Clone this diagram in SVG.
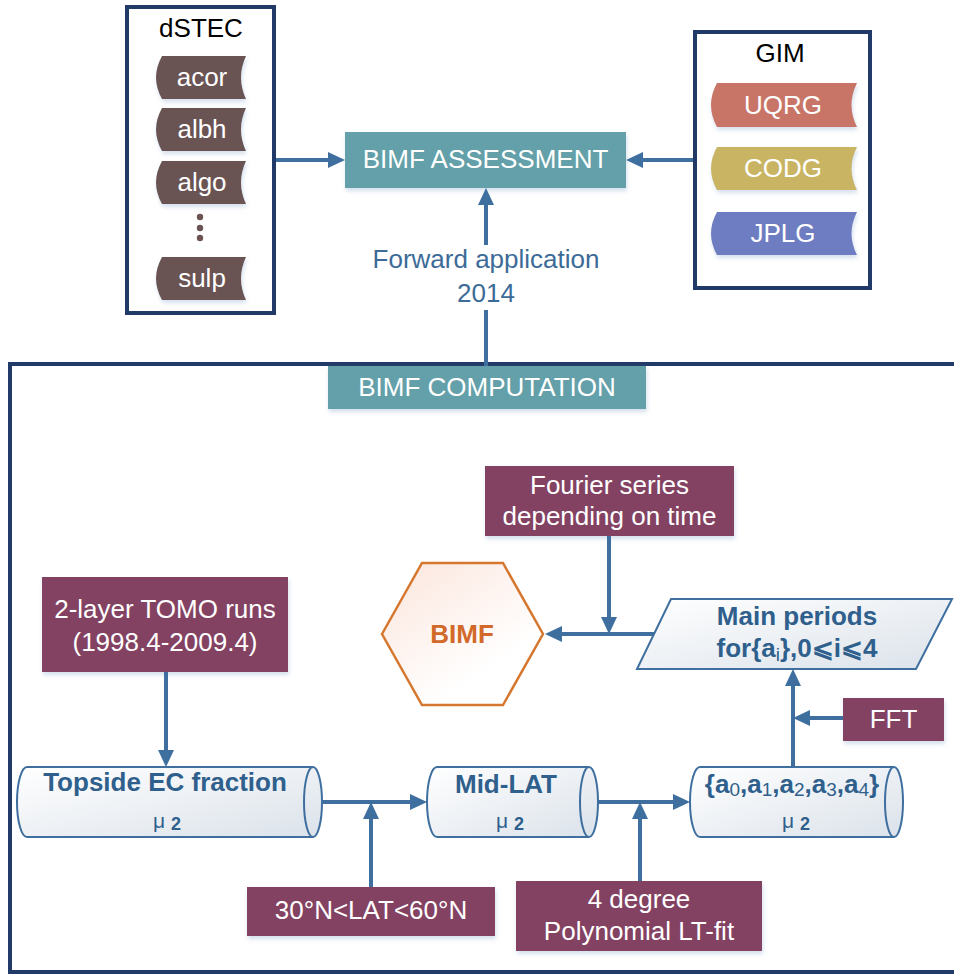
<svg xmlns="http://www.w3.org/2000/svg" width="954" height="977" viewBox="0 0 954 977">
<style>
text{font-family:"Liberation Sans",Arial,sans-serif;font-size:26px;text-anchor:middle}
.w{fill:#ffffff}
.b{fill:#000000}
.t{fill:#2f5f8c;font-weight:bold}
.lbl{fill:#3c6b98}
.frame{fill:none;stroke:#213a68;stroke-width:4}
.teal{fill:#63a0a9;filter:url(#sh)}
.pur{fill:#834262;filter:url(#sh)}
.cyl{fill:url(#cg);stroke:#3e6f9f;stroke-width:2}
.cap{fill:none;stroke:#3e6f9f;stroke-width:2}
.con{fill:none;stroke:#3e6f9f;stroke-width:4;marker-end:url(#ah)}
.con0{fill:none;stroke:#3e6f9f;stroke-width:4}
.sub{font-size:19px;font-weight:normal}
</style>
<defs>
<marker id="ah" markerUnits="userSpaceOnUse" markerWidth="18" markerHeight="18" refX="7" refY="8" orient="auto"><path d="M0,0 L17,8 L0,16 z" fill="#3e6f9f"/></marker>
<linearGradient id="cg" x1="0" y1="0" x2="1" y2="1"><stop offset="0" stop-color="#ffffff"/><stop offset="1" stop-color="#dbe2ea"/></linearGradient>
<linearGradient id="hg" x1="0" y1="0" x2="0.6" y2="0.8"><stop offset="0" stop-color="#fce5dc"/><stop offset="1" stop-color="#ffffff"/></linearGradient>
<filter id="sh" x="-10%" y="-10%" width="130%" height="140%"><feDropShadow dx="1" dy="3" stdDeviation="2" flood-color="#a9c0da" flood-opacity="0.5"/></filter>
</defs>

<g id="dstec">
<rect class="frame" x="127" y="7" width="147" height="306"/>
<text class="b" x="201" y="37">dSTEC</text>
<path d="M162,56 L246,56 Q236,77.5 246,99 L162,99 Q150,77.5 162,56 Z" fill="#6b5353" filter="url(#sh)"/>
<text class="w" x="202" y="86">acor</text>
<path d="M162,108 L246,108 Q236,129.5 246,151 L162,151 Q150,129.5 162,108 Z" fill="#6b5353" filter="url(#sh)"/>
<text class="w" x="202" y="138">albh</text>
<path d="M162,161 L246,161 Q236,182.5 246,204 L162,204 Q150,182.5 162,161 Z" fill="#6b5353" filter="url(#sh)"/>
<text class="w" x="202" y="191">algo</text>
<circle cx="200" cy="217" r="3.2" fill="#6b5353"/>
<circle cx="200" cy="228" r="3.2" fill="#6b5353"/>
<circle cx="200" cy="238" r="3.2" fill="#6b5353"/>
<path d="M162,257 L246,257 Q236,278.5 246,300 L162,300 Q150,278.5 162,257 Z" fill="#6b5353" filter="url(#sh)"/>
<text class="w" x="202" y="287">sulp</text>
</g>

<g id="gim">
<rect class="frame" x="695" y="32" width="175" height="256"/>
<text class="b" x="780" y="62">GIM</text>
<path d="M717,83 L857,83 Q846,105 857,127 L717,127 Q705,105 717,83 Z" fill="#c87468" filter="url(#sh)"/>
<text class="w" x="783" y="114">UQRG</text>
<path d="M717,147 L857,147 Q846,168.5 857,190 L717,190 Q705,168.5 717,147 Z" fill="#c9b463" filter="url(#sh)"/>
<text class="w" x="783" y="177">CODG</text>
<path d="M717,212 L857,212 Q846,233.5 857,255 L717,255 Q705,233.5 717,212 Z" fill="#6e7dc1" filter="url(#sh)"/>
<text class="w" x="783" y="242">JPLG</text>
</g>

<g id="assessment">
<rect class="teal" x="345" y="132" width="281" height="56"/>
<text class="w" x="485.5" y="168">BIMF ASSESSMENT</text>
</g>

<g id="forward-label">
<text class="lbl" x="486" y="268">Forward application</text>
<text class="lbl" x="486" y="302">2014</text>
</g>

<g id="computation-frame">
<rect class="frame" x="10" y="364" width="960" height="608"/>
</g>

<g id="computation">
<rect class="teal" x="328" y="366" width="318" height="43"/>
<text class="w" x="487" y="396">BIMF COMPUTATION</text>
</g>

<g id="fourier">
<rect class="pur" x="485" y="466" width="249" height="70"/>
<text class="w" x="609.5" y="494">Fourier series</text>
<text class="w" x="609.5" y="525">depending on time</text>
</g>

<g id="bimf">
<polygon points="382,634 422,563 503,563 543,634 503,705 422,705" fill="url(#hg)" stroke="#d6772f" stroke-width="2.5"/>
<text x="462" y="643" fill="#d2692a" font-weight="bold">BIMF</text>
</g>

<g id="main-periods">
<polygon points="671,599 952,599 916,669 637,669" class="cyl"/>
<text class="t" x="797" y="625">Main periods</text>
<text class="t" x="797" y="657">for{a<tspan class="sub" dy="4">i</tspan><tspan dy="-4">},0⩽i⩽4</tspan></text>
</g>

<g id="fft">
<rect class="pur" x="843" y="698" width="101" height="43"/>
<text class="w" x="893.5" y="728">FFT</text>
</g>

<g id="tomo">
<rect class="pur" x="42" y="577" width="246" height="95"/>
<text class="w" x="165" y="618">2-layer TOMO runs</text>
<text class="w" x="165" y="651">(1998.4-2009.4)</text>
</g>

<g id="topside">
<path class="cyl" d="M27,767 L313,767 A9,35 0 0 1 313,837 L27,837 A10,35 0 0 1 27,767 Z"/>
<path class="cap" d="M313,767 A9,35 0 0 0 313,837"/>
<text class="t" x="165" y="791">Topside EC fraction</text>
<text class="t" x="167" y="828" style="font-size:21px;font-weight:normal">μ <tspan style="font-weight:bold;font-size:18px" dy="2">2</tspan></text>
</g>

<g id="midlat">
<path class="cyl" d="M437,767 L589,767 A9,35 0 0 1 589,837 L437,837 A10,35 0 0 1 437,767 Z"/>
<path class="cap" d="M589,767 A9,35 0 0 0 589,837"/>
<text class="t" x="506" y="793">Mid-LAT</text>
<text class="t" x="510" y="828" style="font-size:21px;font-weight:normal">μ <tspan style="font-weight:bold;font-size:18px" dy="2">2</tspan></text>
</g>

<g id="coeffs">
<path class="cyl" d="M700,767 L894,767 A9,35 0 0 1 894,837 L700,837 A10,35 0 0 1 700,767 Z"/>
<path class="cap" d="M894,767 A9,35 0 0 0 894,837"/>
<text class="t" x="792" y="793">{a<tspan class="sub" dy="3">0</tspan><tspan dy="-3">,a</tspan><tspan class="sub" dy="3">1</tspan><tspan dy="-3">,a</tspan><tspan class="sub" dy="3">2</tspan><tspan dy="-3">,a</tspan><tspan class="sub" dy="3">3</tspan><tspan dy="-3">,a</tspan><tspan class="sub" dy="3">4</tspan><tspan dy="-3">}</tspan></text>
<text class="t" x="796" y="828" style="font-size:21px;font-weight:normal">μ <tspan style="font-weight:bold;font-size:18px" dy="2">2</tspan></text>
</g>

<g id="lat">
<rect class="pur" x="247" y="887" width="248" height="49"/>
<text class="w" x="371" y="919">30°N&lt;LAT&lt;60°N</text>
</g>

<g id="poly">
<rect class="pur" x="516" y="881" width="246" height="70"/>
<text class="w" x="639" y="908">4 degree</text>
<text class="w" x="639" y="940">Polynomial LT-fit</text>
</g>

<g id="connectors">
<path class="con" d="M276,160 L335,160"/>
<path class="con" d="M693,160 L636,160"/>
<path class="con0" d="M486,366 L486,310"/>
<path class="con" d="M486,245 L486,198"/>
<path class="con" d="M609,536 L609,624"/>
<path class="con" d="M654,634 L555,634"/>
<path class="con" d="M166,672 L166,757"/>
<path class="con" d="M322,802 L417,802"/>
<path class="con" d="M371,887 L371,812"/>
<path class="con" d="M598,802 L680,802"/>
<path class="con" d="M640,881 L640,812"/>
<path class="con" d="M793,767 L793,679"/>
<path class="con" d="M843,718 L803,718"/>
</g>
</svg>
